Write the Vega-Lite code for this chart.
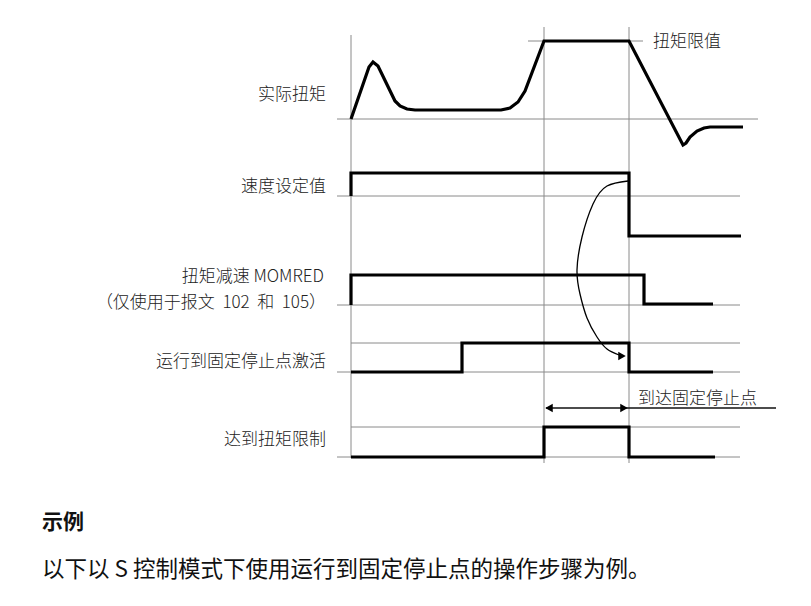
{
  "$schema": "https://vega.github.io/schema/vega-lite/v6.json",
  "width": 811,
  "height": 606,
  "padding": 0,
  "autosize": {"type": "fit", "contains": "padding"},
  "background": "white",
  "config": {"view": {"stroke": null}},
  "datasets": {
    "grid": [
      {"x": 351, "y": 35, "x2": 351, "y2": 458},
      {"x": 544, "y": 27, "x2": 544, "y2": 463},
      {"x": 629, "y": 27, "x2": 629, "y2": 463},
      {"x": 337, "y": 119, "x2": 758, "y2": 119},
      {"x": 528, "y": 41, "x2": 643, "y2": 41},
      {"x": 337, "y": 196, "x2": 740, "y2": 196},
      {"x": 337, "y": 305, "x2": 740, "y2": 305},
      {"x": 351, "y": 343, "x2": 740, "y2": 343},
      {"x": 337, "y": 372, "x2": 740, "y2": 372},
      {"x": 351, "y": 427, "x2": 740, "y2": 427},
      {"x": 337, "y": 457, "x2": 740, "y2": 457}
    ],
    "signals": [
      {"s": "torque", "i": 0, "x": 351, "y": 119},
      {"s": "torque", "i": 1, "x": 369, "y": 67},
      {"s": "torque", "i": 2, "x": 373, "y": 62},
      {"s": "torque", "i": 3, "x": 378, "y": 66},
      {"s": "torque", "i": 4, "x": 395, "y": 101},
      {"s": "torque", "i": 5, "x": 400, "y": 106},
      {"s": "torque", "i": 6, "x": 407, "y": 109},
      {"s": "torque", "i": 7, "x": 415, "y": 110},
      {"s": "torque", "i": 8, "x": 501, "y": 110},
      {"s": "torque", "i": 9, "x": 510, "y": 108},
      {"s": "torque", "i": 10, "x": 518, "y": 102},
      {"s": "torque", "i": 11, "x": 525, "y": 91},
      {"s": "torque", "i": 12, "x": 544, "y": 41},
      {"s": "torque", "i": 13, "x": 629, "y": 41},
      {"s": "torque", "i": 14, "x": 683, "y": 145},
      {"s": "torque", "i": 15, "x": 686, "y": 143},
      {"s": "torque", "i": 16, "x": 690, "y": 137},
      {"s": "torque", "i": 17, "x": 697, "y": 131},
      {"s": "torque", "i": 18, "x": 704, "y": 128},
      {"s": "torque", "i": 19, "x": 710, "y": 127},
      {"s": "torque", "i": 20, "x": 743, "y": 127},
      {"s": "speed", "i": 0, "x": 351, "y": 196},
      {"s": "speed", "i": 1, "x": 351, "y": 173},
      {"s": "speed", "i": 2, "x": 629, "y": 173},
      {"s": "speed", "i": 3, "x": 629, "y": 236},
      {"s": "speed", "i": 4, "x": 741, "y": 236},
      {"s": "momred", "i": 0, "x": 351, "y": 305},
      {"s": "momred", "i": 1, "x": 351, "y": 275},
      {"s": "momred", "i": 2, "x": 644, "y": 275},
      {"s": "momred", "i": 3, "x": 644, "y": 304},
      {"s": "momred", "i": 4, "x": 713, "y": 304},
      {"s": "active", "i": 0, "x": 351, "y": 372},
      {"s": "active", "i": 1, "x": 462, "y": 372},
      {"s": "active", "i": 2, "x": 462, "y": 343},
      {"s": "active", "i": 3, "x": 629, "y": 343},
      {"s": "active", "i": 4, "x": 629, "y": 372},
      {"s": "active", "i": 5, "x": 713, "y": 372},
      {"s": "reached", "i": 0, "x": 351, "y": 457},
      {"s": "reached", "i": 1, "x": 544, "y": 457},
      {"s": "reached", "i": 2, "x": 544, "y": 427},
      {"s": "reached", "i": 3, "x": 629, "y": 427},
      {"s": "reached", "i": 4, "x": 629, "y": 457},
      {"s": "reached", "i": 5, "x": 715, "y": 457}
    ],
    "arc": [
      {"i": 0, "x": 628, "y": 181},
      {"i": 1, "x": 607, "y": 186},
      {"i": 2, "x": 593, "y": 204},
      {"i": 3, "x": 582, "y": 237},
      {"i": 4, "x": 577, "y": 270},
      {"i": 5, "x": 580, "y": 294},
      {"i": 6, "x": 587, "y": 318},
      {"i": 7, "x": 597, "y": 337},
      {"i": 8, "x": 607, "y": 349},
      {"i": 9, "x": 619, "y": 355}
    ],
    "dim": [
      {"x": 546, "y": 408, "x2": 776, "y2": 408}
    ],
    "heads": [
      {"x": 622, "y": 356, "shape": "triangle-right"},
      {"x": 549, "y": 408, "shape": "triangle-left"},
      {"x": 624, "y": 408, "shape": "triangle-right"}
    ],
    "labelsRight": [
      {"x": 326, "y": 95, "t": "实际扭矩"},
      {"x": 326, "y": 187, "t": "速度设定值"},
      {"x": 324, "y": 277, "t": "扭矩减速 MOMRED"},
      {"x": 326, "y": 303, "t": "（仅使用于报文\u00a0\u00a0102\u00a0\u00a0和\u00a0\u00a0105）"},
      {"x": 326, "y": 362, "t": "运行到固定停止点激活"},
      {"x": 326, "y": 440, "t": "达到扭矩限制"}
    ],
    "labelsLeft": [
      {"x": 653, "y": 42, "t": "扭矩限值"},
      {"x": 638, "y": 399, "t": "到达固定停止点"}
    ],
    "title": [
      {"x": 42, "y": 523, "t": "示例"}
    ],
    "body": [
      {"x": 42, "y": 570, "t": "以下以 S 控制模式下使用运行到固定停止点的操作步骤为例。"}
    ]
  },
  "encoding": {
    "x": {"field": "x", "type": "quantitative", "axis": null, "scale": {"domain": [0, 811], "nice": false, "zero": false}},
    "y": {"field": "y", "type": "quantitative", "axis": null, "scale": {"domain": [0, 606], "reverse": true, "nice": false, "zero": false}}
  },
  "layer": [
    {
      "data": {"name": "grid"},
      "mark": {"type": "rule", "color": "#8a8a8a", "strokeWidth": 1},
      "encoding": {
        "x2": {"field": "x2"},
        "y2": {"field": "y2"}
      }
    },
    {
      "data": {"name": "dim"},
      "mark": {"type": "rule", "color": "#111111", "strokeWidth": 1.6},
      "encoding": {
        "x2": {"field": "x2"},
        "y2": {"field": "y2"}
      }
    },
    {
      "data": {"name": "signals"},
      "mark": {"type": "line", "color": "#000000", "strokeWidth": 3.2, "strokeJoin": "miter"},
      "encoding": {
        "detail": {"field": "s", "type": "nominal"},
        "order": {"field": "i", "type": "quantitative"}
      }
    },
    {
      "data": {"name": "arc"},
      "mark": {"type": "line", "color": "#000000", "strokeWidth": 1.3, "interpolate": "natural"},
      "encoding": {
        "order": {"field": "i", "type": "quantitative"}
      }
    },
    {
      "data": {"name": "heads"},
      "mark": {"type": "point", "filled": true, "color": "#000000", "opacity": 1, "size": 75},
      "encoding": {
        "shape": {"field": "shape", "type": "nominal", "scale": null, "legend": null}
      }
    },
    {
      "data": {"name": "labelsRight"},
      "mark": {"type": "text", "align": "right", "baseline": "middle", "font": "Noto Sans CJK SC", "fontSize": 17, "fontWeight": 300, "color": "#222222"},
      "encoding": {"text": {"field": "t"}}
    },
    {
      "data": {"name": "labelsLeft"},
      "mark": {"type": "text", "align": "left", "baseline": "middle", "font": "Noto Sans CJK SC", "fontSize": 17, "fontWeight": 300, "color": "#222222"},
      "encoding": {"text": {"field": "t"}}
    },
    {
      "data": {"name": "title"},
      "mark": {"type": "text", "align": "left", "baseline": "middle", "font": "Noto Sans CJK SC", "fontSize": 21, "fontWeight": "bold", "color": "#111111"},
      "encoding": {"text": {"field": "t"}}
    },
    {
      "data": {"name": "body"},
      "mark": {"type": "text", "align": "left", "baseline": "middle", "font": "Noto Sans CJK SC", "fontSize": 22.5, "color": "#111111"},
      "encoding": {"text": {"field": "t"}}
    }
  ]
}
